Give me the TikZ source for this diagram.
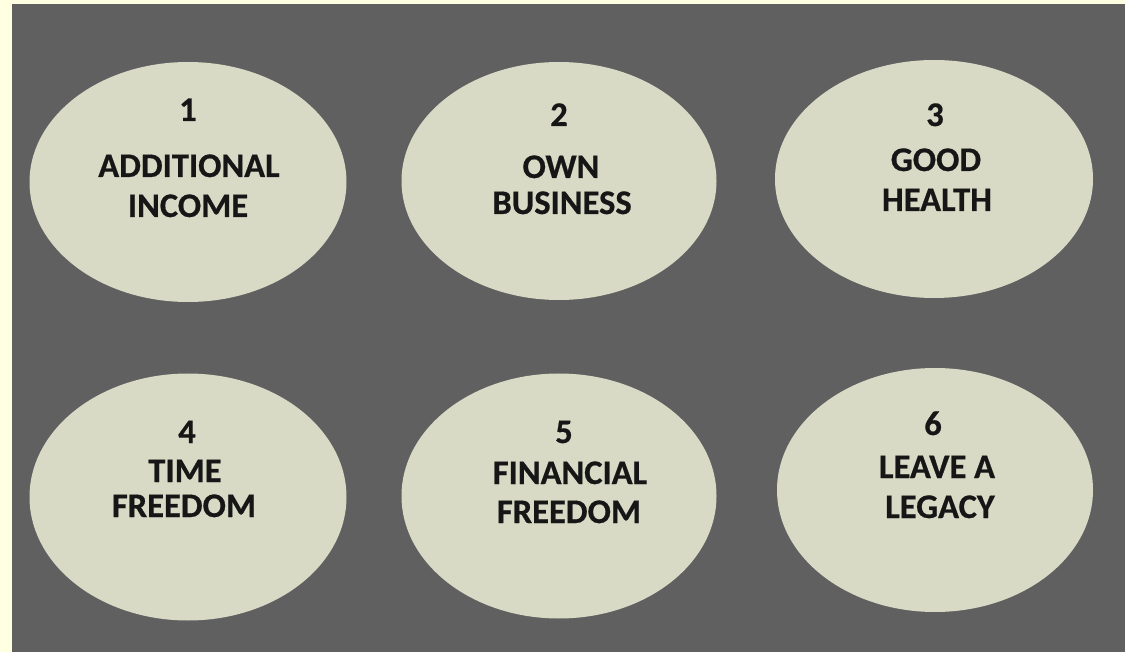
\documentclass[tikz,border=0pt]{standalone}
\usepackage{fontspec}
\setmainfont{Carlito}[BoldFeatures={FakeBold=0.6}]
\usetikzlibrary{shapes.geometric}
\definecolor{edgeyellow}{RGB}{255,255,226}
\definecolor{bggray}{RGB}{96,96,96}
\definecolor{ovalfill}{RGB}{216,218,197}
\definecolor{inkblack}{RGB}{22,22,22}
\tikzset{
  goal/.style={ellipse, fill=ovalfill, draw=none, inner sep=0pt},
  lbl/.style={anchor=base, inner sep=0pt, text=inkblack, font=\fontsize{34.5}{40}\selectfont\bfseries},
}
\begin{document}
\begin{tikzpicture}[x=1pt,y=-1pt]
\useasboundingbox (0,0) rectangle (1125,652);
\fill[edgeyellow] (0,0) rectangle (1125,652);
\fill[bggray] (12,4) rectangle (1125,652);
% ellipses
\node[goal, minimum width=317, minimum height=240] (e1) at (188,182) {};
\node[goal, minimum width=315, minimum height=238] (e2) at (559,181) {};
\node[goal, minimum width=318, minimum height=238] (e3) at (934,179) {};
\node[goal, minimum width=317, minimum height=247] (e4) at (188,497) {};
\node[goal, minimum width=315, minimum height=245] (e5) at (559,496) {};
\node[goal, minimum width=316, minimum height=244] (e6) at (935,490) {};
% texts
\node[lbl] (n1) at (188,121) {1};
\node[lbl] (a1) at (189,177) {ADDITIONAL};
\node[lbl] (b1) at (188,217) {INCOME};
\node[lbl] (n2) at (559,126) {2};
\node[lbl] (a2) at (561,178) {OWN};
\node[lbl] (b2) at (562,214) {BUSINESS};
\node[lbl] (n3) at (935,126) {3};
\node[lbl] (a3) at (936,171) {GOOD};
\node[lbl] (b3) at (937,211) {HEALTH};
\node[lbl] (n4) at (187,443) {4};
\node[lbl] (a4) at (185,482) {TIME};
\node[lbl] (b4) at (184,517) {FREEDOM};
\node[lbl] (n5) at (564,443) {5};
\node[lbl] (a5) at (570,484) {FINANCIAL};
\node[lbl] (b5) at (569,523) {FREEDOM};
\node[lbl] (n6) at (933,435) {6};
\node[lbl] (a6) at (937,478) {LEAVE A};
\node[lbl] (b6) at (940,518) {LEGACY};
\end{tikzpicture}
\end{document}
